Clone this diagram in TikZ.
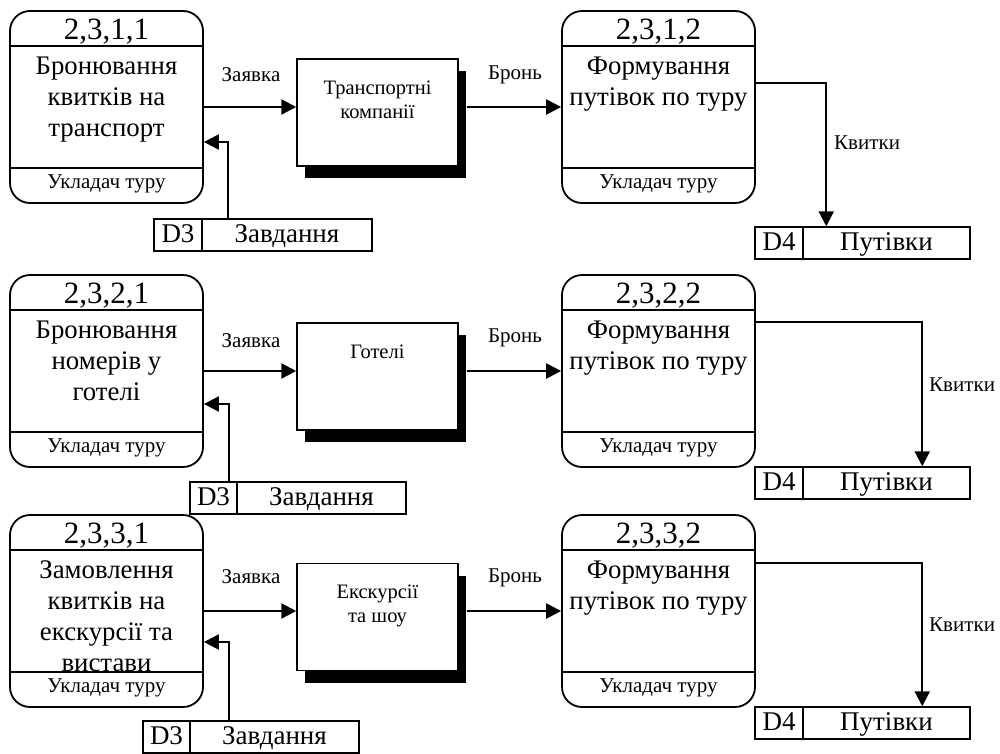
\documentclass[tikz,border=0pt]{standalone}
\usepackage{fontspec}
\setmainfont{Liberation Serif}
\usetikzlibrary{arrows.meta,shadows}
\begin{document}
\begin{tikzpicture}[x=1pt,y=-1pt,
  proc/.style={draw, line width=1.8pt, rounded corners=20pt, minimum width=193pt, minimum height=192pt, inner sep=0pt},
  ttl/.style={font=\fontsize{31}{31}\selectfont, inner sep=0pt},
  body/.style={font=\fontsize{26.8}{30.7}\selectfont, align=center, inner sep=0pt, anchor=north},
  foot/.style={font=\fontsize{21}{21}\selectfont, inner sep=0pt},
  ent/.style={draw, line width=1.5pt, fill=white, minimum width=161pt, minimum height=107pt, inner sep=0pt,
    drop shadow={shadow xshift=8pt, shadow yshift=-12pt, fill=black, opacity=1}},
  enttext/.style={font=\fontsize{20.5}{24}\selectfont, align=center, inner sep=0pt, anchor=north},
  lbl/.style={font=\fontsize{21}{21}\selectfont, inner sep=0pt},
  sbox/.style={draw, line width=1.5pt, minimum height=32pt, inner sep=0pt, text height=19pt, text depth=5pt,
    font=\fontsize{27}{27}\selectfont},
  flow/.style={line width=2.3pt, -{Triangle[length=15pt,width=15pt]}},
]
\useasboundingbox (0,0) rectangle (1000,753);

% processes
\node[proc] (p11) at (106.5,107) {};
\node[proc] (p12) at (658.5,107) {};
\node[proc] (p21) at (106.5,371) {};
\node[proc] (p22) at (658.5,371) {};
\node[proc] (p31) at (106.5,611) {};
\node[proc] (p32) at (658.5,611) {};
\foreach \p in {p11,p12,p21,p22,p31,p32}{
  \draw[line width=1.8pt] ([yshift=61pt]\p.west) -- ([yshift=61pt]\p.east);
  \draw[line width=1.8pt] ([yshift=-61pt]\p.west) -- ([yshift=-61pt]\p.east);
  \node[foot] (\p f) at ([yshift=-77pt]\p.center) {Укладач туру};
}
\node[ttl] (p11t) at ([yshift=75pt]p11.center) {2,3,1,1};
\node[ttl] (p12t) at ([yshift=75pt]p12.center) {2,3,1,2};
\node[ttl] (p21t) at ([yshift=75pt]p21.center) {2,3,2,1};
\node[ttl] (p22t) at ([yshift=75pt]p22.center) {2,3,2,2};
\node[ttl] (p31t) at ([yshift=75pt]p31.center) {2,3,3,1};
\node[ttl] (p32t) at ([yshift=75pt]p32.center) {2,3,3,2};

\node[body] (p11b) at ([yshift=50pt]p11.center) {Бронювання\\квитків на\\транспорт};
\node[body] (p12b) at ([yshift=50pt]p12.center) {Формування\\путівок по туру};
\node[body] (p21b) at ([yshift=50pt]p21.center) {Бронювання\\номерів у\\готелі};
\node[body] (p22b) at ([yshift=50pt]p22.center) {Формування\\путівок по туру};
\node[body] (p31b) at ([yshift=50pt]p31.center) {Замовлення\\квитків на\\екскурсії та\\вистави};
\node[body] (p32b) at ([yshift=50pt]p32.center) {Формування\\путівок по туру};

% external entities
\node[ent] (e1) at (377.5,112.5) {};
\node[ent] (e2) at (377.5,376.5) {};
\node[ent] (e3) at (377.5,617) {};
\node[enttext] (e1t) at ([yshift=-22pt]e1.north) {Транспортні\\компанії};
\node[enttext] (e2t) at ([yshift=-22pt]e2.north) {Готелі};
\node[enttext] (e3t) at ([yshift=-22pt]e3.north) {Екскурсії\\та шоу};
\coordinate (e1s) at ([xshift=8pt]e1.east);
\coordinate (e2s) at ([xshift=8pt]e2.east);
\coordinate (e3s) at ([xshift=8pt]e3.east);

% data stores D3
\node[sbox, minimum width=48pt] (d31a) at (178,235) {D3};
\node[sbox, minimum width=170pt] (d31b) at (287,235) {Завдання};
\node[sbox, minimum width=47pt] (d32a) at (213.5,498) {D3};
\node[sbox, minimum width=169pt] (d32b) at (321.5,498) {Завдання};
\node[sbox, minimum width=47pt] (d33a) at (166.5,737) {D3};
\node[sbox, minimum width=169pt] (d33b) at (274.5,737) {Завдання};

% data stores D4
\node[sbox, minimum width=48pt] (d41a) at (779,243) {D4};
\node[sbox, minimum width=167pt] (d41b) at (886.5,243) {Путівки};
\node[sbox, minimum width=48pt] (d42a) at (779,483) {D4};
\node[sbox, minimum width=167pt] (d42b) at (886.5,483) {Путівки};
\node[sbox, minimum width=48pt] (d43a) at (779,723) {D4};
\node[sbox, minimum width=167pt] (d43b) at (886.5,723) {Путівки};

% flows
\draw[flow] (p11.east) -- (p11.east -| e1.west);
\draw[flow] (e1s |- p12.west) -- (p12.west);
\draw[flow] ([xshift=27pt]d31b.north west) |- ([yshift=-35pt]p11.east);
\draw[flow] ([yshift=24pt]p12.east) -| ([xshift=24pt]d41b.north west);

\draw[flow] (p21.east) -- (p21.east -| e2.west);
\draw[flow] (e2s |- p22.west) -- (p22.west);
\draw[flow] ([xshift=40pt]d32a.north west) |- ([yshift=-33pt]p21.east);
\draw[flow] ([yshift=49pt]p22.east) -| ([xshift=120pt]d42b.north west);

\draw[flow] (p31.east) -- (p31.east -| e3.west);
\draw[flow] (e3s |- p32.west) -- (p32.west);
\draw[flow] ([xshift=40pt]d33b.north west) |- ([yshift=-31pt]p31.east);
\draw[flow] ([yshift=48pt]p32.east) -| ([xshift=120pt]d43b.north west);

% labels
\node[lbl] (l1a) at (251,75) {Заявка};
\node[lbl] (l1b) at (515,75) {Бронь};
\node[lbl, anchor=west] (l1c) at (834,143) {Квитки};
\node[lbl] (l2a) at (251,341) {Заявка};
\node[lbl] (l2b) at (515,338) {Бронь};
\node[lbl, anchor=west] (l2c) at (929,385) {Квитки};
\node[lbl] (l3a) at (251,577) {Заявка};
\node[lbl] (l3b) at (515,578) {Бронь};
\node[lbl, anchor=west] (l3c) at (929,625) {Квитки};
\end{tikzpicture}
\end{document}
